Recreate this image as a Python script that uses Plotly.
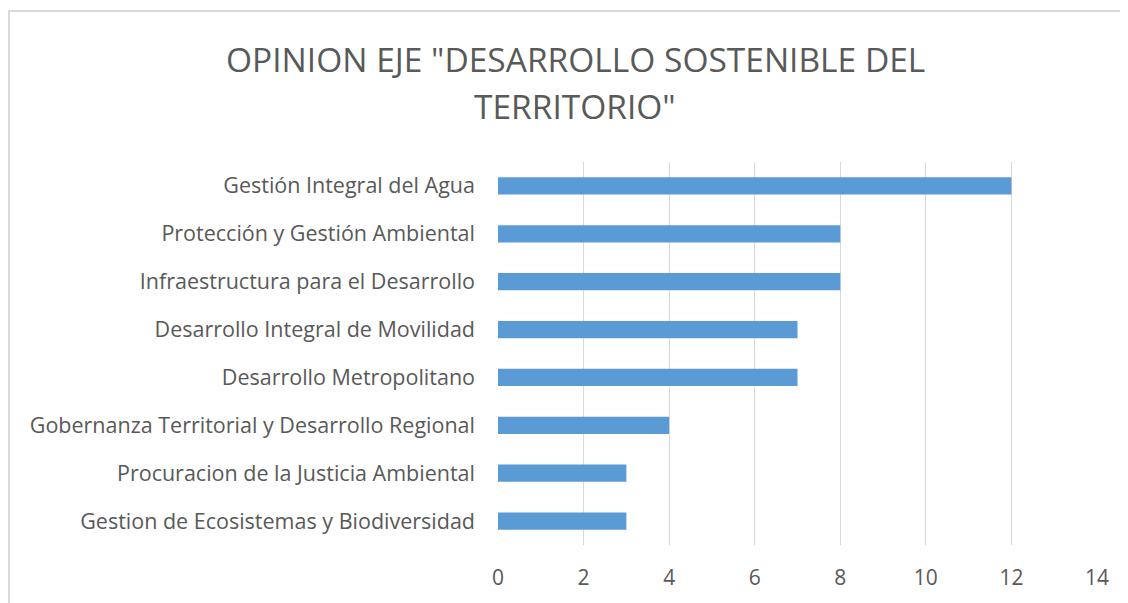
import plotly.graph_objects as go


# ==========================================================
# Opinion eje "Desarrollo Sostenible del Territorio"
# ==========================================================

categories = [
    "Gestión Integral del Agua",
    "Protección y Gestión Ambiental",
    "Infraestructura para el Desarrollo",
    "Desarrollo Integral de Movilidad",
    "Desarrollo Metropolitano",
    "Gobernanza Territorial y Desarrollo Regional",
    "Procuracion de la Justicia Ambiental",
    "Gestion de Ecosistemas y Biodiversidad",
]
values = [12, 8, 8, 7, 7, 4, 3, 3]
x_ticks = [0, 2, 4, 6, 8, 10, 12, 14]
title_lines = ['OPINION EJE "DESARROLLO SOSTENIBLE DEL', 'TERRITORIO"']

TEXT = "#595959"
FONT = "Open Sans"

# page body has an 8px margin, so the figure is sized to fill the rest
W, H = 1120, 595
L, R, T, B = 490, 31, 154, 58
PW, PH = W - L - R, H - T - B

fig = go.Figure(
    go.Bar(
        x=values,
        y=categories,
        orientation="h",
        marker=dict(color="#5B9BD5", line=dict(width=0)),
        width=0.36,
    )
)

fig.update_layout(
    width=W,
    height=H,
    margin=dict(l=L, r=R, t=T, b=B),
    paper_bgcolor="white",
    plot_bgcolor="white",
    showlegend=False,
    font=dict(family=FONT, color=TEXT, size=21),
    xaxis=dict(
        range=[0, 14],
        tickvals=x_ticks,
        showgrid=True,
        gridcolor="#d9d9d9",
        gridwidth=1,
        zeroline=False,
        showline=False,
        ticks="",
        ticklabelstandoff=18,
        tickfont=dict(size=21, color=TEXT),
        fixedrange=True,
    ),
    yaxis=dict(
        autorange="reversed",
        showgrid=False,
        zeroline=False,
        showline=False,
        ticks="",
        ticklabelstandoff=22,
        tickfont=dict(size=21.5, color=TEXT),
        fixedrange=True,
    ),
)

# two title lines placed separately to get the wider line spacing
for line, y_px in zip(title_lines, [50.5, 97.5]):
    fig.add_annotation(
        text=line,
        xref="paper",
        yref="paper",
        x=(567 - L) / PW,
        y=(T + PH - y_px) / PH,
        xanchor="center",
        yanchor="middle",
        showarrow=False,
        font=dict(family=FONT, size=33.5, color=TEXT),
    )

# chart area border (only top and left edges fall inside the picture)
fig.add_shape(
    type="rect",
    xref="paper",
    yref="paper",
    x0=(1 - L) / PW,
    x1=2,
    y0=-1,
    y1=(T + PH - 3) / PH,
    line=dict(color="#d9d9d9", width=2),
    layer="below",
)

fig.write_html("out.html")
